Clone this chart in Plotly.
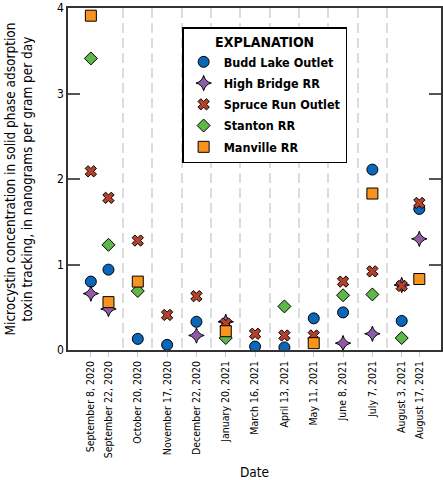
import plotly.graph_objects as go

# sampling dates and their slot on the x axis (slots are not proportional to time)
dates = ["September 8, 2020", "September 22, 2020", "October 20, 2020",
         "November 17, 2020", "December 22, 2020", "January 20, 2021",
         "March 16, 2021", "April 13, 2021", "May 11, 2021", "June 8, 2021",
         "July 7, 2021", "August 3, 2021", "August 17, 2021"]
x_slot = [-1.6, -1.0, 0, 1, 2, 3, 4, 5, 6, 7, 8, 9, 9.6]

budd_lake = [0.80, 0.94, 0.13, 0.06, 0.33, None, 0.04, 0.03, 0.37, 0.44, 2.11, 0.34, 1.65]
high_bridge = [0.66, 0.48, None, None, 0.17, 0.33, None, None, None, 0.08, 0.19, 0.76, 1.30]
spruce_run = [2.09, 1.78, 1.28, 0.41, 0.63, 0.31, 0.19, 0.17, 0.17, 0.80, 0.92, 0.75, 1.72]
stanton = [3.41, 1.23, 0.69, None, None, 0.14, None, 0.51, None, 0.64, 0.65, 0.14, None]
manville = [3.91, 0.56, 0.80, None, None, 0.22, None, None, 0.08, None, 1.83, None, 0.83]

y_ticks = [0, 1, 2, 3, 4]

FONT = "Liberation Sans Narrow, Arial Narrow, DejaVu Sans Condensed, sans-serif"

series = [
    ("Budd Lake Outlet", budd_lake, "circle", "#0a66b8", 11),
    ("High Bridge RR", high_bridge, "star-diamond", "#8e5ba6", 11),
    ("Spruce Run Outlet", spruce_run, "x", "#b5412b", 10),
    ("Stanton RR", stanton, "diamond", "#5db848", 10),
    ("Manville RR", manville, "square", "#f7931e", 11),
]

fig = go.Figure()
for name, vals, sym, col, sz in series:
    fig.add_trace(go.Scatter(
        x=x_slot, y=vals, name=name, mode="markers", legendgroup=name,
        marker=dict(symbol=sym, color=col, size=sz,
                    line=dict(color="black", width=1)),
    ))

# dashed separators between sampling slots
grid_x = [(x_slot[i] + x_slot[i + 1]) / 2 for i in range(1, len(x_slot) - 2)]

fig.update_layout(
    width=443, height=480,
    margin=dict(l=68, r=2, t=8, b=130),
    plot_bgcolor="white", paper_bgcolor="white",
    font=dict(family=FONT, size=12, color="black"),
    showlegend=True,
    legend=dict(
        x=0.306, y=0.943, xanchor="left", yanchor="top",
        bordercolor="black", borderwidth=1.5, bgcolor="white",
        tracegroupgap=2,
        font=dict(family=FONT, size=12.5, color="black", weight="bold"),
        title=dict(text="<b>EXPLANATION</b>", side="top center",
                   font=dict(family=FONT, size=14, color="black")),
    ),
    xaxis=dict(
        range=[-2.38, 10.34], automargin=False,
        tickvals=x_slot, ticktext=dates, tickangle=-90,
        tickfont=dict(size=10.5),
        ticks="outside", ticklen=5, tickcolor="#c8c8c8",
        showgrid=False, zeroline=False,
        showline=True, linecolor="#333333", linewidth=1.5, mirror=True,
        minor=dict(tickvals=grid_x, showgrid=True, gridcolor="#dcdcdc",
                   gridwidth=1.5, griddash="10px,5px", ticks=""),
        title=dict(text="Date", standoff=10, font=dict(size=13.5)),
    ),
    yaxis=dict(
        range=[0, 4], tickvals=y_ticks, automargin=False,
        ticks="inside", ticklen=12, tickcolor="#555555", tickwidth=1.5,
        showgrid=False, zeroline=False,
        showline=True, linecolor="#333333", linewidth=1.5, mirror="ticks",
        title=dict(text="Microcystin concentration in solid phase adsorption<br>"
                        "toxin tracking, in nanograms per gram per day",
                   standoff=21, font=dict(size=13.5)),
    ),
)

# page body has a default 8px margin; drop it so the figure fills the window
fig.write_html("out.html", config={"displayModeBar": False},
               post_script="document.body.style.margin='0';")
